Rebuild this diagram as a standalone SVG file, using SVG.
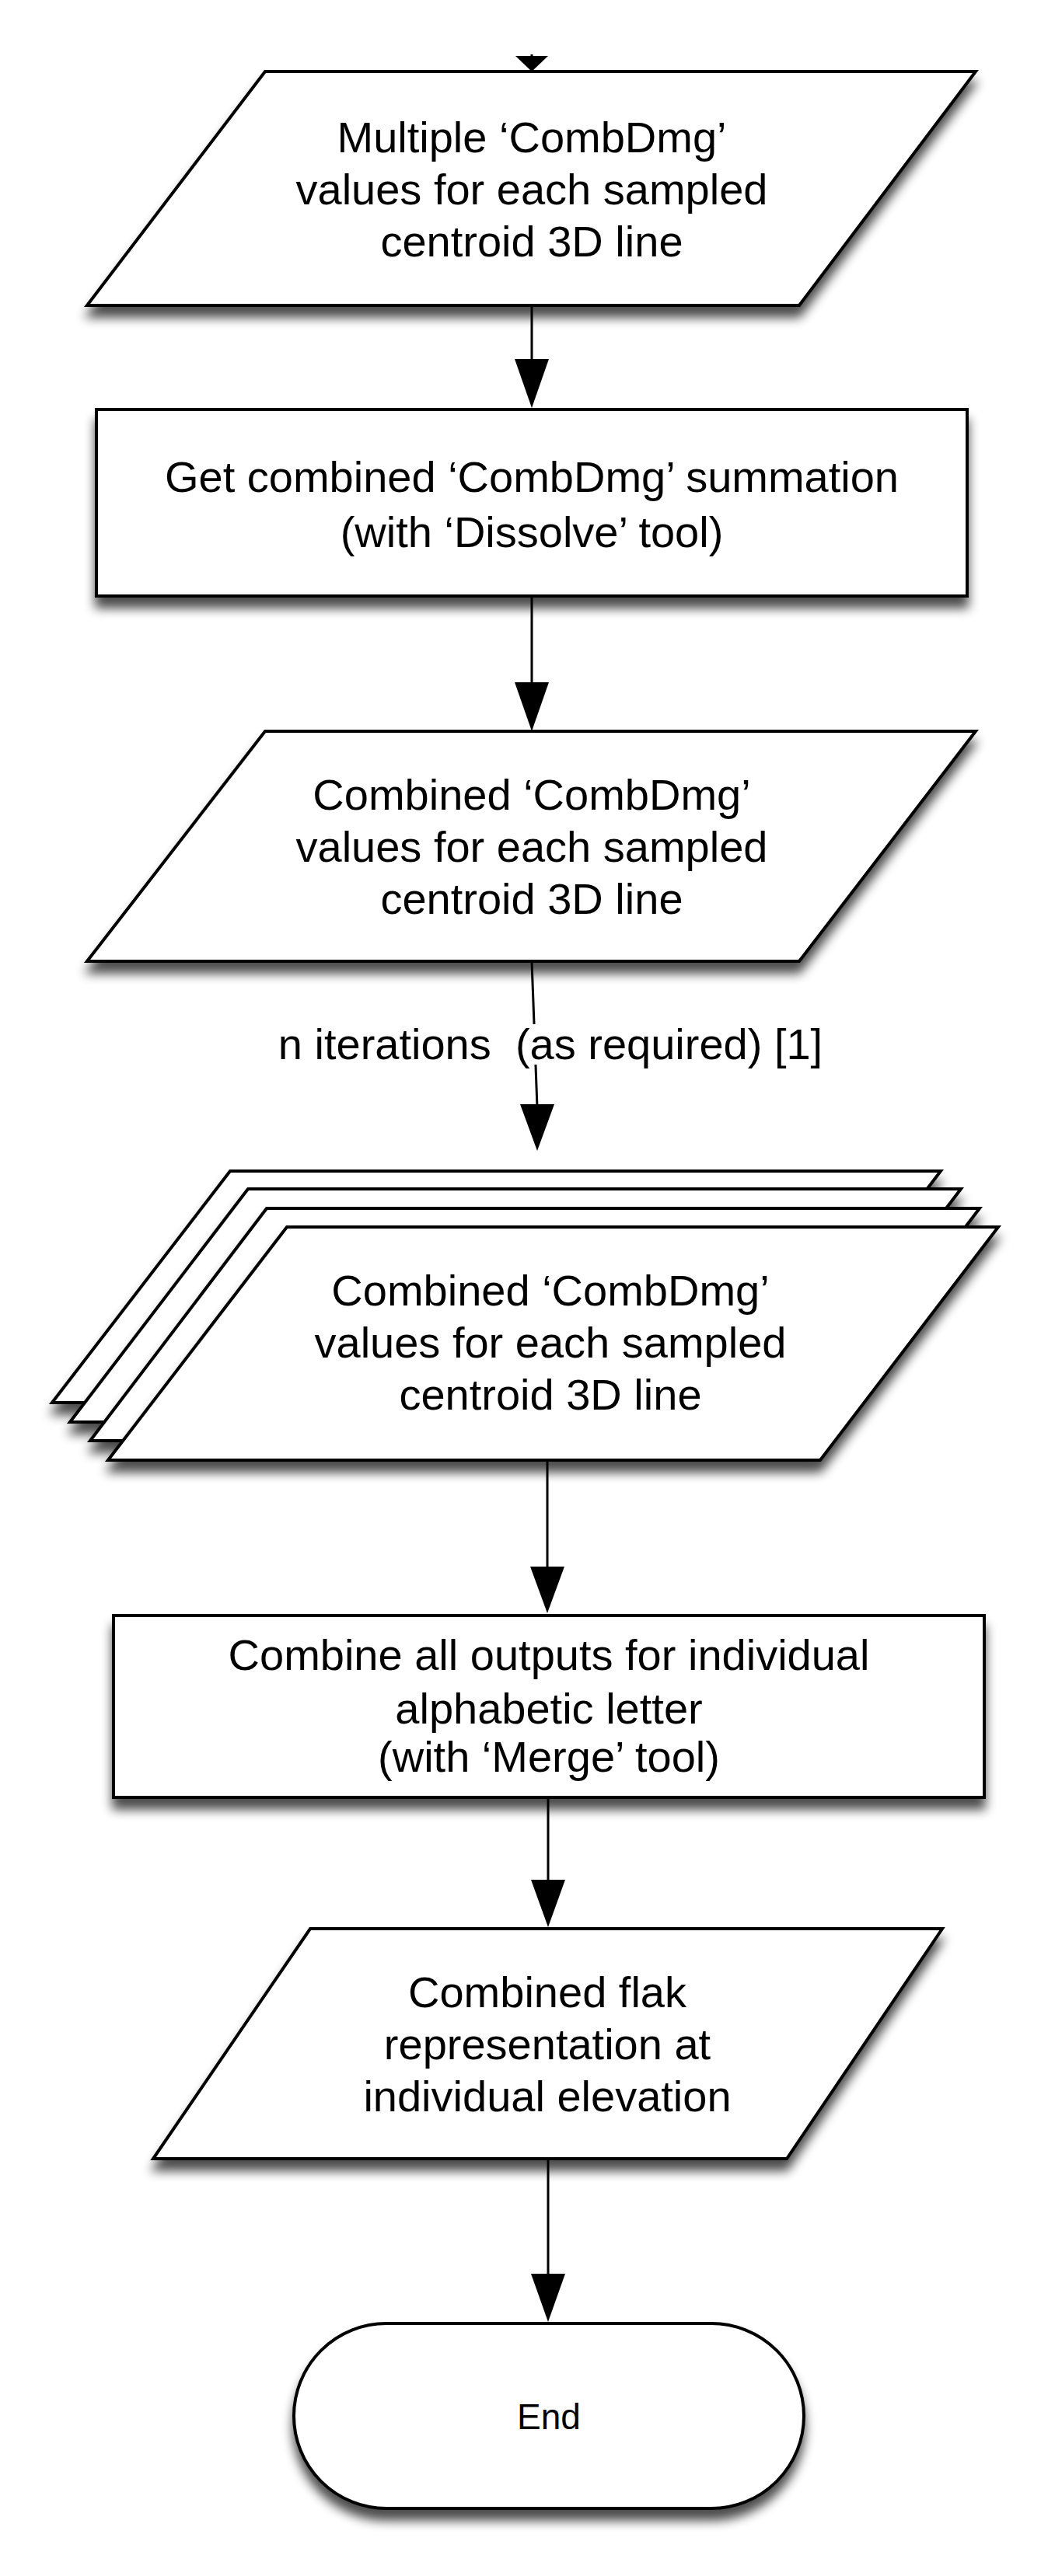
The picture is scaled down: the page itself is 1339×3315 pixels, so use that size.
<svg xmlns="http://www.w3.org/2000/svg" width="1339" height="3315" viewBox="0 0 1339 3315">
<style>
.s{fill:#fff;stroke:#000;stroke-width:4;filter:url(#sh)}
.t{font-family:"Liberation Sans",Arial,sans-serif;font-size:56px;text-anchor:middle;fill:#000}
.c{stroke:#000;stroke-width:3;fill:none}
.h{fill:#000}
</style>
<defs>
<filter id="sh" x="-10%" y="-10%" width="120%" height="130%">
<feGaussianBlur in="SourceAlpha" stdDeviation="7"/>
<feOffset dx="0" dy="14" result="b"/>
<feComponentTransfer><feFuncA type="linear" slope="0.7"/></feComponentTransfer>
<feMerge><feMergeNode/><feMergeNode in="SourceGraphic"/></feMerge>
</filter>
</defs>
<g id="connectors">
<line class="c" x1="684" y1="70" x2="684" y2="92"/>
<polygon class="h" points="663,72 705,72 684,92"/>
<line class="c" x1="684" y1="393" x2="684" y2="470"/>
<polygon class="h" points="662,462 706,462 684,525"/>
<line class="c" x1="684" y1="767" x2="684" y2="885"/>
<polygon class="h" points="662,878 706,878 684,941"/>
<line class="c" x1="684" y1="1237" x2="691" y2="1425"/>
<polygon class="h" points="669,1421 713,1421 691,1481"/>
<rect x="340" y="1318" width="740" height="52" fill="#fff"/>
<text class="t" x="708" y="1363" xml:space="preserve" style="white-space:pre">n iterations  (as required) [1]</text>
<line class="c" x1="704" y1="1879" x2="704" y2="2020"/>
<polygon class="h" points="682,2016 726,2016 704,2076"/>
<line class="c" x1="705" y1="2313" x2="705" y2="2425"/>
<polygon class="h" points="683,2419 727,2419 705,2480"/>
<line class="c" x1="705" y1="2778" x2="705" y2="2930"/>
<polygon class="h" points="683,2926 727,2926 705,2988"/>
</g>
<g id="n1">
<polygon class="s" points="341,92 1255,92 1028,393 112,393"/>
<text class="t" x="684" y="196">Multiple ‘CombDmg’</text>
<text class="t" x="684" y="263">values for each sampled</text>
<text class="t" x="684" y="330">centroid 3D line</text>
</g>
<g id="n2">
<rect class="s" x="124" y="527" width="1120" height="240"/>
<text class="t" x="684" y="633">Get combined ‘CombDmg’ summation</text>
<text class="t" x="684" y="704">(with ‘Dissolve’ tool)</text>
</g>
<g id="n3">
<polygon class="s" points="341,941 1255,941 1028,1237 112,1237"/>
<text class="t" x="684" y="1042">Combined ‘CombDmg’</text>
<text class="t" x="684" y="1109">values for each sampled</text>
<text class="t" x="684" y="1176">centroid 3D line</text>
</g>
<g id="n4">
<polygon class="s" points="296,1507 1210,1507 983,1805 67,1805"/>
<polygon class="s" points="319,1530 1236,1530 1008,1830 90,1830"/>
<polygon class="s" points="343,1555 1260,1555 1032,1854 116,1854"/>
<polygon class="s" points="369,1579 1284,1579 1055,1879 139,1879"/>
<text class="t" x="708" y="1680">Combined ‘CombDmg’</text>
<text class="t" x="708" y="1747">values for each sampled</text>
<text class="t" x="708" y="1814">centroid 3D line</text>
</g>
<g id="n5">
<rect class="s" x="146" y="2079" width="1120" height="234"/>
<text class="t" x="706" y="2149">Combine all outputs for individual</text>
<text class="t" x="706" y="2218">alphabetic letter</text>
<text class="t" x="706" y="2280">(with ‘Merge’ tool)</text>
</g>
<g id="n6">
<polygon class="s" points="399,2482 1212,2482 1012,2778 197,2778"/>
<text class="t" x="704" y="2583">Combined flak</text>
<text class="t" x="704" y="2650">representation at</text>
<text class="t" x="704" y="2717">individual elevation</text>
</g>
<g id="n7">
<rect class="s" x="378" y="2990" width="656" height="238" rx="119" ry="119"/>
<text class="t" x="706" y="3126" style="font-size:46px">End</text>
</g>
</svg>
